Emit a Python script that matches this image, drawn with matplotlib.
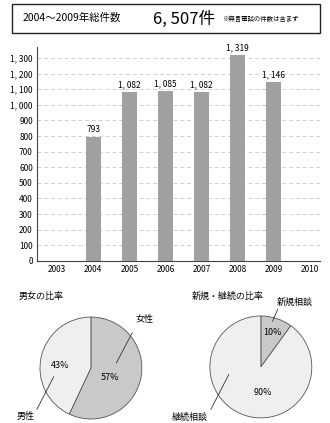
import matplotlib
matplotlib.use("Agg")
import matplotlib.pyplot as plt
import numpy as np
from matplotlib.patches import Rectangle

plt.rcParams['font.family'] = ['Noto Sans CJK JP', 'DejaVu Sans']

# データ
years = ['2003', '2004', '2005', '2006', '2007', '2008', '2009', '2010']
counts = [np.nan, 793, 1082, 1085, 1082, 1319, 1146, np.nan]
yticks = list(range(0, 1301, 100))
total_label = '6, 507件'

gender_labels = ['女性', '男性']
gender_pct = [57, 43]
case_labels = ['新規相談', '継続相談']
case_pct = [10, 90]


def jp_num(v):
    # 1,300 -> "1, 300"
    return '{:,}'.format(int(v)).replace(',', ', ')


fig = plt.figure(figsize=(3.3, 4.23), dpi=100)

# ヘッダー枠
fig.patches.append(Rectangle((0.036, 0.922), 0.933, 0.0686, transform=fig.transFigure,
                             fill=False, edgecolor='#222222', linewidth=1.0))
fig.text(0.067, 0.957, '2004～2009年総件数', fontsize=7.5, va='center', ha='left')
fig.text(0.463, 0.955, total_label, fontsize=12, va='center', ha='left')
fig.text(0.672, 0.955, '※無言電話の件数は含まず', fontsize=4.6, va='center', ha='left')

# 棒グラフ
ax = fig.add_axes([0.112, 0.383, 0.858, 0.506])
x = np.arange(len(years))
bars = ax.bar(x, counts, width=0.42, color='#a0a0a0', zorder=3)
for xi, v in zip(x, counts):
    if not np.isnan(v):
        ax.text(xi, v + 18, jp_num(v), ha='center', va='bottom', fontsize=6)
ax.set_xticks(x)
ax.set_xticklabels(years, fontsize=6)
ax.set_yticks(yticks)
ax.set_yticklabels([jp_num(t) for t in yticks], fontsize=6)
ax.set_xlim(-0.56, 7.28)
ax.set_ylim(0, 1370)
ax.yaxis.grid(True, linestyle=(0, (4, 3)), color='#cfcfcf', linewidth=0.7, zorder=0)
ax.tick_params(length=0, pad=3)
for s in ['top', 'right']:
    ax.spines[s].set_visible(False)
for s in ['left', 'bottom']:
    ax.spines[s].set_color('#444444')
    ax.spines[s].set_linewidth(0.8)

wedge_kw = dict(edgecolor='#555555', linewidth=0.6)
pie_colors = ['#c9c9c9', '#efefef']

# 男女の比率
fig.text(0.055, 0.300, '男女の比率', fontsize=6.5, va='center', ha='left')
ax1 = fig.add_axes([0.118, 0.007, 0.315, 0.246])
ax1.pie(gender_pct, colors=pie_colors, startangle=90, counterclock=False,
        wedgeprops=wedge_kw)
ax1.set_xlim(-1.02, 1.02)
ax1.set_ylim(-1.02, 1.02)
ax1.text(0.37, -0.19, '%d%%' % gender_pct[0], fontsize=6.5, ha='center', va='center')
ax1.text(-0.6, 0.04, '%d%%' % gender_pct[1], fontsize=6.5, ha='center', va='center')
ax1.plot([0.81, 0.5], [0.69, 0.1], color='#333333', lw=0.6, clip_on=False)
ax1.text(1.06, 0.96, gender_labels[0], fontsize=6.5, ha='center', va='center', clip_on=False)
ax1.plot([-1.06, -0.73], [-0.81, -0.17], color='#333333', lw=0.6, clip_on=False)
ax1.text(-1.29, -0.95, gender_labels[1], fontsize=6.5, ha='center', va='center', clip_on=False)

# 新規・継続の比率
fig.text(0.582, 0.300, '新規・継続の比率', fontsize=6.5, va='center', ha='left')
ax2 = fig.add_axes([0.633, 0.0095, 0.315, 0.246])
ax2.pie(case_pct, colors=pie_colors, startangle=90, counterclock=False,
        wedgeprops=wedge_kw)
ax2.set_xlim(-1.02, 1.02)
ax2.set_ylim(-1.02, 1.02)
ax2.text(0.23, 0.67, '%d%%' % case_pct[0], fontsize=6.5, ha='center', va='center')
ax2.text(0.04, -0.5, '%d%%' % case_pct[1], fontsize=6.5, ha='center', va='center')
ax2.plot([0.33, 0.23], [1.13, 0.9], color='#333333', lw=0.6, clip_on=False)
ax2.text(0.66, 1.26, case_labels[0], fontsize=6.5, ha='center', va='center', clip_on=False)
ax2.plot([-0.98, -0.63], [-0.83, -0.15], color='#333333', lw=0.6, clip_on=False)
ax2.text(-1.4, -0.98, case_labels[1], fontsize=6.5, ha='center', va='center', clip_on=False)

fig.savefig('out.png', dpi=100)
